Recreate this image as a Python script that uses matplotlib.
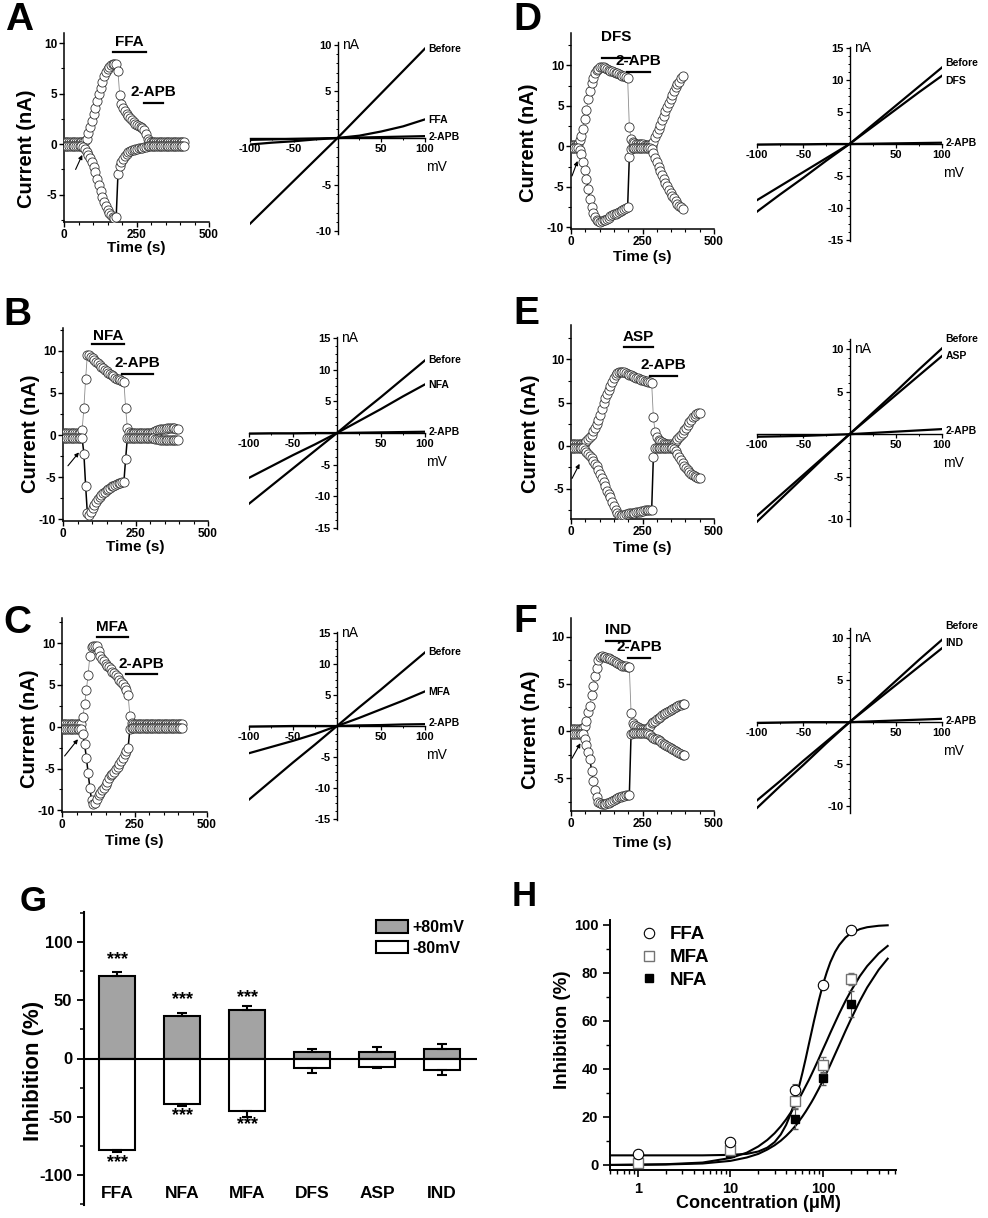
import matplotlib
matplotlib.use("Agg")
import matplotlib.pyplot as plt
from matplotlib.ticker import MultipleLocator, FixedLocator, NullFormatter, LogLocator
from matplotlib.patches import Patch
from matplotlib.lines import Line2D
import numpy as np

plt.rcParams["font.family"] = ["Liberation Sans", "DejaVu Sans"]
plt.rcParams["font.weight"] = "bold"
plt.rcParams["axes.labelweight"] = "bold"
plt.rcParams["axes.unicode_minus"] = False

W, H = 988, 1218
dt = 6  # sampling interval of the time courses (s)

# ---- time courses, current at +80 mV (pos) and -80 mV (neg), nA
ffa_pos = [0.2, 0.2, 0.2, 0.2, 0.2, 0.2, 0.2, 0.2, 0.2, 0.2, 0.2,
           0.2, 0.3, 0.5, 1.1, 1.7, 2.3, 3.0, 3.6, 4.3, 5.0,
           5.6, 6.2, 6.7, 7.1, 7.4, 7.6, 7.8, 7.9, 7.95, 7.9,
           7.2, 4.9, 4.0, 3.6, 3.3, 3.0, 2.8, 2.6, 2.4, 2.2,
           2.0, 1.9, 1.8, 1.7, 1.6, 1.4, 1.0, 0.5, 0.3,
           0.25, 0.25, 0.25, 0.25, 0.25, 0.25, 0.25, 0.25, 0.25, 0.25,
           0.25, 0.25, 0.25, 0.25, 0.25, 0.25, 0.25, 0.25, 0.25, 0.25]
ffa_neg = [-0.2, -0.2, -0.2, -0.2, -0.2, -0.2, -0.2, -0.2, -0.2, -0.2, -0.2,
           -0.3, -0.5, -0.8, -1.1, -1.4, -1.8, -2.3, -2.8, -3.4, -4.0,
           -4.6, -5.2, -5.7, -6.1, -6.5, -6.8, -7.0, -7.2, -7.3, -7.2,
           -3.0, -2.2, -1.8, -1.5, -1.2, -1.0, -0.8, -0.7, -0.6, -0.55,
           -0.5, -0.45, -0.4, -0.4, -0.35, -0.3, -0.25, -0.2, -0.2,
           -0.2, -0.2, -0.2, -0.2, -0.2, -0.2, -0.2, -0.2, -0.2, -0.2,
           -0.2, -0.2, -0.2, -0.2, -0.2, -0.2, -0.2, -0.2, -0.2, -0.2]

nfa_pos = [0.3, 0.3, 0.3, 0.3, 0.3, 0.3, 0.3, 0.3, 0.3, 0.3, 0.3,
           0.6, 3.2, 6.7, 9.5, 9.5, 9.3, 9.1, 8.9, 8.7, 8.5,
           8.3, 8.1, 7.9, 7.7, 7.6, 7.4, 7.3, 7.1, 7.0, 6.8,
           6.7, 6.6, 6.5, 6.4, 6.35, 3.2, 0.8, 0.4,
           0.2, 0.2, 0.2, 0.2, 0.2, 0.2, 0.2, 0.2, 0.2, 0.2, 0.2, 0.2,
           0.3, 0.4, 0.5, 0.6, 0.6, 0.7, 0.7, 0.7, 0.75, 0.8,
           0.8, 0.8, 0.8, 0.8, 0.7, 0.7]
nfa_neg = [-0.3, -0.3, -0.3, -0.3, -0.3, -0.3, -0.3, -0.3, -0.3, -0.3, -0.3,
           -0.4, -2.2, -6.0, -9.3, -9.5, -9.1, -8.7, -8.3, -7.9, -7.6,
           -7.3, -7.1, -6.9, -6.7, -6.5, -6.4, -6.3, -6.1, -6.0, -5.9,
           -5.8, -5.7, -5.65, -5.6, -5.55, -2.8, -0.3, -0.3,
           -0.3, -0.3, -0.3, -0.3, -0.3, -0.3, -0.3, -0.3, -0.3, -0.3, -0.3, -0.3,
           -0.35, -0.4, -0.45, -0.5, -0.5, -0.55, -0.55, -0.6, -0.6, -0.6,
           -0.6, -0.6, -0.6, -0.6, -0.55, -0.55]

mfa_pos = [0.3, 0.3, 0.3, 0.3, 0.3, 0.3, 0.3, 0.3, 0.3, 0.3, 0.3,
           0.3, 1.2, 2.7, 4.4, 6.2, 8.5, 9.5, 9.7, 9.7, 9.6,
           9.0, 8.5, 8.1, 7.8, 7.5, 7.3, 7.1, 6.9, 6.6, 6.4,
           6.2, 5.9, 5.6, 5.4, 5.1, 4.8, 4.4, 3.8, 1.3, 0.5,
           0.3, 0.3, 0.3, 0.3, 0.3, 0.3, 0.3, 0.3, 0.3, 0.3,
           0.3, 0.3, 0.3, 0.3, 0.3, 0.3, 0.3, 0.3, 0.3, 0.3,
           0.3, 0.3, 0.3, 0.3, 0.3, 0.3, 0.3, 0.3, 0.3]
mfa_neg = [-0.3, -0.3, -0.3, -0.3, -0.3, -0.3, -0.3, -0.3, -0.3, -0.3, -0.3,
           -0.3, -0.9, -2.1, -3.7, -5.5, -7.3, -8.8, -9.3, -9.1, -8.6,
           -8.2, -7.9, -7.6, -7.3, -7.0, -6.6, -6.1, -5.8, -5.6, -5.4,
           -5.1, -4.8, -4.5, -4.1, -3.7, -3.3, -2.9, -2.5, -0.3, -0.2,
           -0.2, -0.2, -0.2, -0.2, -0.2, -0.2, -0.2, -0.2, -0.2, -0.2,
           -0.2, -0.2, -0.2, -0.2, -0.2, -0.2, -0.2, -0.2, -0.2, -0.2,
           -0.2, -0.2, -0.2, -0.2, -0.2, -0.2, -0.2, -0.2, -0.2]

dfs_pos = [0.2, 0.2, 0.2, 0.2, 0.3,
           0.8, 1.3, 2.2, 3.4, 4.5, 5.8, 6.9, 7.8, 8.5, 9.1,
           9.4, 9.6, 9.75, 9.8, 9.75, 9.65, 9.55, 9.45, 9.35, 9.25,
           9.15, 9.05, 9.0, 8.9, 8.8, 8.7, 8.65, 8.55, 8.45, 2.4,
           0.9, 0.5, 0.4, 0.35, 0.3, 0.3, 0.25, 0.25, 0.2, 0.2,
           0.2, 0.2, 0.1, 0.6, 1.2, 1.6, 2.2, 2.7, 3.3, 3.8,
           4.4, 4.9, 5.4, 5.9, 6.4, 6.8, 7.3, 7.7, 8.0, 8.4,
           8.7]
dfs_neg = [-0.2, -0.2, -0.2, -0.2, -0.2,
           -0.4, -1.0, -1.9, -2.9, -4.0, -5.2, -6.5, -7.5, -8.2, -8.7,
           -9.05, -9.25, -9.3, -9.25, -9.15, -9.05, -8.95, -8.8, -8.65, -8.5,
           -8.4, -8.3, -8.2, -8.1, -8.0, -7.9, -7.75, -7.6, -7.5, -1.3,
           -0.3, -0.2, -0.2, -0.2, -0.2, -0.2, -0.2, -0.2, -0.2, -0.2,
           -0.2, -0.2, -0.3, -0.8, -1.4, -1.9, -2.5, -3.0, -3.5, -4.0,
           -4.5, -4.9, -5.4, -5.7, -6.1, -6.4, -6.8, -7.1, -7.3, -7.5,
           -7.7]

asp_pos = [0.2, 0.2, 0.2, 0.2, 0.2, 0.2, 0.2,
           0.25, 0.35, 0.5, 0.75, 1.0, 1.3, 1.7, 2.1, 2.5, 3.0,
           3.6, 4.2, 4.9, 5.5, 6.0, 6.5, 6.9, 7.4, 7.9, 8.2,
           8.4, 8.55, 8.6, 8.6, 8.55, 8.45, 8.35, 8.25, 8.15, 8.05,
           7.95, 7.85, 7.8, 7.7, 7.65, 7.6, 7.5, 7.45, 7.4, 7.35,
           7.3, 3.3, 1.6, 1.0, 0.7, 0.5, 0.4, 0.3, 0.25, 0.2,
           0.15, 0.15, 0.1, 0.2, 0.5, 0.8, 1.0, 1.2, 1.5, 1.8,
           2.1, 2.4, 2.7, 3.0, 3.3, 3.5, 3.65, 3.75, 3.8]
asp_neg = [-0.3, -0.3, -0.3, -0.3, -0.3, -0.3, -0.3,
           -0.3, -0.45, -0.7, -0.95, -1.2, -1.45, -1.75, -2.1, -2.4, -2.8,
           -3.3, -3.8, -4.2, -4.7, -5.2, -5.6, -6.0, -6.5, -7.0, -7.4,
           -7.8, -8.05, -8.1, -8.05, -8.0, -7.95, -7.9, -7.85, -7.8, -7.8,
           -7.75, -7.7, -7.7, -7.65, -7.6, -7.55, -7.5, -7.5, -7.5, -7.5,
           -7.5, -1.3, -0.3, -0.3, -0.3, -0.3, -0.3, -0.3, -0.3, -0.3,
           -0.3, -0.3, -0.3, -0.35, -0.6, -0.95, -1.3, -1.65, -2.0, -2.3,
           -2.6, -2.85, -3.05, -3.25, -3.4, -3.55, -3.65, -3.75, -3.8]

ind_pos = [0.2, 0.2, 0.2, 0.2, 0.2, 0.2, 0.2,
           0.3, 0.5, 1.1, 2.0, 2.7, 3.8, 4.8, 5.8, 6.7, 7.5,
           7.9, 7.95, 7.9, 7.85, 7.8, 7.7, 7.6, 7.5, 7.4, 7.3,
           7.2, 7.1, 7.0, 6.95, 6.9, 6.85, 6.8, 6.75, 1.9, 0.9,
           0.6, 0.5, 0.4, 0.3, 0.25, 0.2, 0.2, 0.2, 0.3, 0.5,
           0.8, 1.0, 1.1, 1.25, 1.4, 1.5, 1.65, 1.8, 1.9, 2.05,
           2.15, 2.25, 2.35, 2.45, 2.55, 2.65, 2.75, 2.8, 2.85, 2.9]
ind_neg = [-0.3, -0.3, -0.3, -0.3, -0.3, -0.3, -0.3,
           -0.3, -0.8, -1.5, -2.2, -3.0, -4.2, -5.3, -6.3, -7.0, -7.5,
           -7.7, -7.8, -7.8, -7.75, -7.7, -7.6, -7.5, -7.4, -7.3, -7.2,
           -7.1, -7.05, -7.0, -6.95, -6.9, -6.85, -6.8, -6.75, -0.3, -0.25,
           -0.2, -0.2, -0.2, -0.2, -0.2, -0.2, -0.2, -0.2, -0.3, -0.45,
           -0.6, -0.7, -0.8, -0.9, -1.0, -1.1, -1.25, -1.4, -1.5, -1.6,
           -1.75, -1.85, -1.95, -2.05, -2.15, -2.25, -2.35, -2.45, -2.5, -2.55]

# ---- I-V ramps (nA) at these voltages (mV)
volt = [-100, -75, -50, -25, 0, 25, 50, 75, 100]
iv_a = {"Before": [-9.2, -6.9, -4.6, -2.3, 0, 2.4, 4.8, 7.2, 9.6],
        "FFA": [-0.7, -0.5, -0.35, -0.15, 0, 0.25, 0.7, 1.25, 2.0],
        "2-APB": [-0.2, -0.15, -0.1, -0.05, 0, 0.05, 0.1, 0.15, 0.2]}
iv_b = {"Before": [-11.2, -8.4, -5.6, -2.8, 0, 2.9, 5.7, 8.6, 11.5],
        "NFA": [-7.1, -5.3, -3.5, -1.8, 0, 1.9, 3.8, 5.8, 7.7],
        "2-APB": [-0.1, -0.05, -0.05, 0, 0, 0.05, 0.1, 0.15, 0.2]}
iv_c = {"Before": [-11.9, -8.9, -5.9, -3.0, 0, 3.0, 5.9, 8.9, 11.9],
        "MFA": [-4.4, -3.4, -2.4, -1.3, 0, 1.3, 2.7, 4.1, 5.6],
        "2-APB": [-0.1, -0.05, 0, 0, 0, 0.1, 0.15, 0.25, 0.3]}
iv_d = {"Before": [-10.6, -7.9, -5.3, -2.6, 0, 3.0, 6.0, 9.0, 12.0],
        "DFS": [-8.8, -6.6, -4.4, -2.2, 0, 2.7, 5.4, 8.1, 10.7],
        "2-APB": [-0.1, -0.05, -0.05, 0, 0, 0.05, 0.1, 0.15, 0.2]}
iv_e = {"Before": [-10.3, -7.7, -5.1, -2.5, 0, 2.5, 5.0, 7.6, 10.1],
        "ASP": [-9.6, -7.2, -4.8, -2.4, 0, 2.3, 4.6, 6.9, 9.2],
        "2-APB": [-0.3, -0.25, -0.2, -0.1, 0, 0.15, 0.3, 0.45, 0.6]}
iv_f = {"Before": [-10.2, -7.6, -5.1, -2.5, 0, 2.4, 4.9, 7.4, 9.8],
        "IND": [-9.3, -7.0, -4.6, -2.3, 0, 2.2, 4.4, 6.6, 8.8],
        "2-APB": [-0.1, -0.05, 0, 0, 0, 0.1, 0.2, 0.3, 0.4]}

# ---- G: inhibition (%) at +80 / -80 mV
drugs = ["FFA", "NFA", "MFA", "DFS", "ASP", "IND"]
inh_pos = [71.3, 36.2, 41.4, 6.0, 5.5, 8.6]
inh_pos_err = [2.8, 2.6, 3.4, 2.3, 4.8, 3.8]
inh_neg = [-78.7, -38.8, -45.4, -8.3, -7.5, -9.5]
inh_neg_err = [1.5, 2.3, 4.6, 3.8, 1.1, 4.9]
star_up = [85.0, 51.0, 52.6]
star_dn = [-89.7, -49.4, -57.0]

# ---- H: concentration response
conc = [1, 10, 50, 100, 200]
ffa_inh = [4.6, 9.4, 31.1, 75.0, 97.9]
ffa_err = [0.8, 1.0, 2.5, 1.0, 1.0]
mfa_inh = [0.7, 6.3, 26.8, 41.5, 77.4]
mfa_err = [1.5, 2.0, 3.0, 3.4, 2.6]
nfa_inh = [0.5, 5.0, 19.2, 36.1, 67.1]
nfa_err = [0.8, 1.0, 4.2, 2.8, 5.5]
fit_conc = [0.5, 1, 2, 5, 10, 15, 20, 25, 30, 35, 40, 45, 50, 55, 60, 65, 70, 75,
            80, 90, 100, 110, 120, 135, 150, 175, 200, 250, 300, 400, 500]
ffa_fit = [4.0, 4.0, 4.0, 4.0, 4.2, 4.6, 5.6, 7.2, 9.5, 12.7, 16.7, 21.5, 26.7, 32.5,
           38.4, 44.2, 49.9, 55.1, 60.0, 68.4, 75.2, 80.3, 84.4, 88.7, 91.6, 94.7,
           96.5, 98.2, 99.0, 99.6, 99.8]
mfa_fit = [0.0, 0.1, 0.3, 1.0, 2.9, 5.1, 7.7, 10.4, 13.2, 16.1, 19.0, 21.9, 24.7, 27.5,
           30.2, 32.8, 35.2, 37.6, 39.9, 44.2, 48.2, 51.7, 55.0, 59.3, 63.1, 68.3,
           72.4, 78.6, 82.8, 88.1, 91.2]
nfa_fit = [0.0, 0.1, 0.2, 0.6, 1.7, 3.1, 4.6, 6.4, 8.2, 10.1, 12.1, 14.1, 16.1, 18.2,
           20.2, 22.2, 24.2, 26.1, 28.0, 31.7, 35.2, 38.6, 41.7, 46.1, 50.0, 55.8,
           60.6, 68.3, 73.9, 81.3, 85.9]


def rect(l, t, r, b):
    return [l / W, 1 - b / H, (r - l) / W, (b - t) / H]


fig = plt.figure(figsize=(W / 100, H / 100), dpi=100)


def time_panel(box, pos, neg, ylim, yticks, drug, drug_bar, apb_bar, arrow, ylab_xy,
               xlab_gap, drug_gap=2.5):
    ax = fig.add_axes(rect(*box))
    t = dt * np.arange(len(pos))
    ax.plot(t, pos, color="0.55", lw=0.6, zorder=2)
    ax.plot(t, neg, color="k", lw=1.1, zorder=2)
    for v in (pos, neg):
        ax.plot(t, v, ls="none", marker="o", ms=6.6, mfc="white", mec="0.2",
                mew=0.6, zorder=3)
    ax.set_xlim(0, 500)
    ax.set_ylim(*ylim)
    ax.set_xticks([0, 250, 500])
    ax.xaxis.set_minor_locator(MultipleLocator(50))
    ax.set_yticks(yticks)
    ax.yaxis.set_minor_locator(MultipleLocator(2.5))
    for s in ("top", "right"):
        ax.spines[s].set_visible(False)
    for s in ("left", "bottom"):
        ax.spines[s].set_linewidth(1.1)
    ax.tick_params(which="major", length=3.5, width=1, labelsize=8.5, pad=1.5)
    ax.tick_params(which="minor", length=2, width=0.8)
    ax.set_xlabel("Time (s)", fontsize=11)
    ax.xaxis.set_label_coords(0.5, -xlab_gap / (box[3] - box[1]))
    ax.set_ylabel("Current (nA)", fontsize=14.5)
    ax.yaxis.set_label_coords(*ylab_xy)
    for name, (x0, x1, y), gap in ((drug, drug_bar, drug_gap), ("2-APB", apb_bar, 2.5)):
        ax.plot([x0, x1], [y, y], color="k", lw=1.6, clip_on=False, zorder=4)
        ax.annotate(name, xy=((x0 + x1) / 2, y), xytext=(0, gap), textcoords="offset points",
                    ha="center", va="bottom", fontsize=11)
    ax.annotate("", xy=arrow[1], xytext=arrow[0],
                arrowprops=dict(arrowstyle="-|>", lw=0.8, color="k", mutation_scale=6,
                                shrinkA=0, shrinkB=0))
    return ax


def iv_panel(box, curves, ylim, yticks, yminor, label_y):
    ax = fig.add_axes(rect(*box))
    for name, cur in curves.items():
        ax.plot(volt, cur, color="k", lw=1.6)
    for name, y in zip(curves, label_y):
        ax.text(104, y, name, fontsize=7.5, ha="left", va="center", clip_on=False)
    ax.set_xlim(-100, 100)
    ax.set_ylim(*ylim)
    for s in ("top", "right"):
        ax.spines[s].set_visible(False)
    ax.spines["left"].set_position(("data", 0))
    ax.spines["bottom"].set_position(("data", 0))
    ax.spines["left"].set_linewidth(1)
    ax.spines["bottom"].set_linewidth(1)
    ax.set_xticks([-100, -50, 50, 100])
    ax.xaxis.set_minor_locator(MultipleLocator(25))
    ax.set_yticks(yticks)
    ax.yaxis.set_minor_locator(MultipleLocator(yminor))
    ax.tick_params(which="major", length=3, width=0.9, labelsize=8, pad=1.5)
    ax.tick_params(which="minor", length=1.6, width=0.7)
    ax.annotate("nA", xy=(0, yticks[-1]), xytext=(3, 0), textcoords="offset points",
                ha="left", va="center", fontsize=10, fontweight="normal")
    ax.annotate("mV", xy=(100, 0), xytext=(8, -21), textcoords="offset points",
                ha="center", va="center", fontsize=10, fontweight="normal")
    return ax


# left column: A, B, C
time_panel((64, 33, 209, 222), ffa_pos, ffa_neg, (-7.7, 11.0), [-5, 0, 5, 10], "FFA",
           (169, 282, 9.1), (275, 341, 4.1), ((40, -2.5), (63, -1.06)), (-0.193, 0.39), 19)
iv_panel((250, 42, 425, 234), iv_a, (-10.3, 10.3), [-10, -5, 5, 10], 1, [9.5, 1.9, 0.1])

time_panel((63, 328, 208, 521), nfa_pos, nfa_neg, (-10.2, 12.7), [-10, -5, 0, 5, 10], "NFA",
           (100, 211, 10.8), (205, 309, 7.3), ((17, -3.65), (55, -2.06)), (-0.159, 0.45), 19,
           drug_gap=1)
iv_panel((249, 337, 425, 529), iv_b, (-15.2, 15.2), [-15, -10, -5, 5, 10, 15], 1.25,
         [11.6, 7.6, 0.2])

time_panel((62, 618, 207, 812), mfa_pos, mfa_neg, (-10.2, 13.0), [-10, -5, 0, 5, 10], "MFA",
           (119, 228, 10.7), (222, 326, 6.3), ((9, -3.5), (55, -1.5)), (-0.159, 0.43), 22)
iv_panel((249, 632, 425, 820), iv_c, (-15.2, 15.2), [-15, -10, -5, 5, 10, 15], 1.25,
         [11.9, 5.5, 0.5])

# right column: D, E, F
time_panel((571, 33, 714, 229), dfs_pos, dfs_neg, (-10.2, 14.0), [-10, -5, 0, 5, 10], "DFS",
           (108, 206, 10.9), (195, 276, 9.2), ((3.5, -3.65), (23, -1.8)), (-0.231, 0.44), 21,
           drug_gap=10)
iv_panel((757, 47, 942, 241), iv_d, (-15.2, 15.2), [-15, -10, -5, 5, 10, 15], 1.25,
         [12.7, 9.8, 0.2])

time_panel((571, 325, 714, 519), asp_pos, asp_neg, (-8.5, 14.0), [-5, 0, 5, 10], "ASP",
           (184, 287, 11.4), (277, 371, 8.1), ((3.5, -3.8), (30, -2.1)), (-0.217, 0.44), 22)
iv_panel((757, 339, 942, 526), iv_e, (-10.8, 11.2), [-10, -5, 5, 10], 1,
         [11.2, 9.2, 0.35])

time_panel((571, 618, 714, 811), ind_pos, ind_neg, (-8.5, 12.0), [-5, 0, 5, 10], "IND",
           (124, 207, 9.6), (198, 277, 7.8), ((3.5, -2.9), (33, -1.3)), (-0.217, 0.42), 25)
iv_panel((757, 628, 942, 813), iv_f, (-10.8, 11.2), [-10, -5, 5, 10], 1,
         [11.4, 9.4, 0.1])

# ---- G
axg = fig.add_axes(rect(84, 912, 477, 1205))
x = np.arange(len(drugs))
axg.bar(x, inh_pos, 0.55, color="#a3a3a3", edgecolor="k", lw=1.5, zorder=2)
axg.bar(x, inh_neg, 0.55, color="white", edgecolor="k", lw=1.5, zorder=2)
axg.errorbar(x, inh_pos, yerr=[np.zeros(len(x)), inh_pos_err], fmt="none", ecolor="k",
             elinewidth=1.5, capsize=3.5, capthick=1.5, zorder=3)
axg.errorbar(x, inh_neg, yerr=[inh_neg_err, np.zeros(len(x))], fmt="none", ecolor="k",
             elinewidth=1.5, capsize=3.5, capthick=1.5, zorder=3)
axg.axhline(0, color="k", lw=1.5, zorder=4)
for i, y in enumerate(star_up):
    axg.text(i, y, "***", ha="center", va="center", fontsize=13)
for i, y in enumerate(star_dn):
    axg.text(i, y, "***", ha="center", va="center", fontsize=13)
for i, d in enumerate(drugs):
    axg.text(i, -116, d, ha="center", va="center", fontsize=12.5)
axg.set_xlim(-0.51, 5.54)
axg.set_ylim(-126, 126)
axg.set_xticks([])
axg.set_yticks([-100, -50, 0, 50, 100])
axg.yaxis.set_minor_locator(MultipleLocator(25))
for s in ("top", "right", "bottom"):
    axg.spines[s].set_visible(False)
axg.spines["left"].set_linewidth(1.5)
axg.tick_params(axis="y", which="major", length=5, width=1.3, labelsize=12)
axg.tick_params(axis="y", which="minor", length=3, width=1.1)
axg.set_ylabel("Inhibition (%)", fontsize=16)
axg.yaxis.set_label_coords(-0.102, 0.457)
axg.legend(handles=[Patch(facecolor="#a3a3a3", edgecolor="k", lw=1.5, label="+80mV"),
                    Patch(facecolor="white", edgecolor="k", lw=1.5, label="-80mV")],
           loc="upper left", bbox_to_anchor=((376 - 84) / 393, (1205 - 920) / 293),
           frameon=False, fontsize=11.5, handlelength=2.0, handleheight=0.8,
           handletextpad=0.3, labelspacing=0.35, borderpad=0, borderaxespad=0)

# ---- H
axh = fig.add_axes(rect(610, 920, 896, 1170))
axh.set_xscale("log")
for fit in (ffa_fit, mfa_fit, nfa_fit):
    axh.plot(fit_conc, fit, color="k", lw=1.5, zorder=2)
axh.errorbar(conc, nfa_inh, yerr=nfa_err, fmt="s", ms=6, mfc="k", mec="k", ecolor="0.35",
             elinewidth=0.8, capsize=2, zorder=3)
axh.errorbar(conc, mfa_inh, yerr=mfa_err, fmt="s", ms=6.5, mfc="white", mec="0.45", mew=1,
             ecolor="0.45", elinewidth=0.8, capsize=2, zorder=4)
axh.errorbar(conc, ffa_inh, yerr=ffa_err, fmt="o", ms=7.5, mfc="white", mec="k", mew=0.8,
             ecolor="0.35", elinewidth=0.8, capsize=2, zorder=5)
axh.set_xlim(0.5, 615)
axh.set_ylim(-2.1, 102)
axh.xaxis.set_major_locator(FixedLocator([1, 10, 100]))
axh.set_xticklabels(["1", "10", "100"])
axh.xaxis.set_minor_locator(LogLocator(base=10, subs=np.arange(2, 10), numticks=20))
axh.xaxis.set_minor_formatter(NullFormatter())
axh.set_yticks([0, 20, 40, 60, 80, 100])
axh.yaxis.set_minor_locator(MultipleLocator(10))
for s in ("top", "right"):
    axh.spines[s].set_visible(False)
for s in ("left", "bottom"):
    axh.spines[s].set_linewidth(1.4)
axh.tick_params(which="major", length=5, width=1.2, labelsize=10.5)
axh.tick_params(which="minor", length=3, width=1)
axh.set_ylabel("Inhibition (%)", fontsize=13.5)
axh.yaxis.set_label_coords(-0.136, 0.56)
axh.set_xlabel("Concentration (\u03bcM)", fontsize=13)
axh.xaxis.set_label_coords(0.52, -0.1)
axh.legend(handles=[Line2D([], [], ls="none", marker="o", ms=7.5, mfc="white", mec="k", mew=0.8, label="FFA"),
                    Line2D([], [], ls="none", marker="s", ms=6.5, mfc="white", mec="0.45", mew=1, label="MFA"),
                    Line2D([], [], ls="none", marker="s", ms=6, mfc="k", mec="k", label="NFA")],
           loc="upper left", bbox_to_anchor=(0.105, 0.975), frameon=False, fontsize=13.5,
           handlelength=1.0, handletextpad=0.6, labelspacing=0.3, borderpad=0, borderaxespad=0)

# panel letters
for letter, px, py, fs in (("A", 5, 2, 28), ("B", 3, 297, 28), ("C", 3, 605, 28),
                           ("D", 513, 2, 28), ("E", 513, 296, 28), ("F", 513, 604, 28),
                           ("G", 20, 885, 25), ("H", 512, 880, 25)):
    fig.text(px / W, 1 - py / H, letter, fontsize=fs, ha="left", va="top")

fig.savefig("out.png", dpi=100)
